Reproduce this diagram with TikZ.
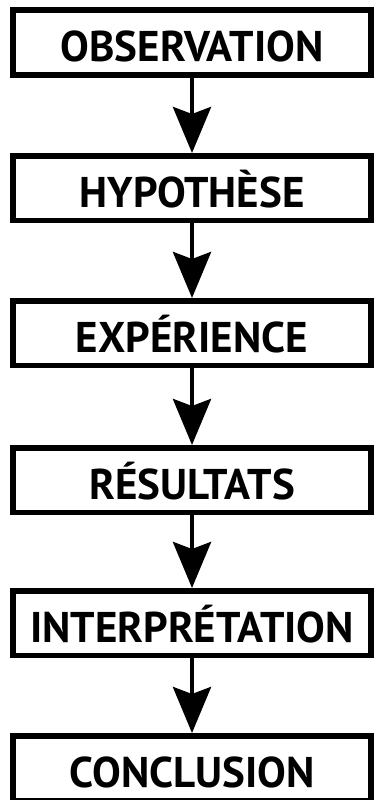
\documentclass[tikz,border=0pt]{standalone}
\usepackage{fontspec}
\setmainfont{PT Sans}
\usepackage{tikz}
\usetikzlibrary{arrows.meta}

\begin{document}
\begin{tikzpicture}[x=1pt,y=1pt,yscale=-1,xscale=1,
    stage/.style={draw, line width=5.5pt, minimum width=358pt, minimum height=64.5pt,
      inner sep=0pt, text height=38pt, text depth=0pt,
      font=\fontsize{43}{43}\selectfont\bfseries},
    flow/.style={line width=4.5pt, -{Stealth[length=46pt, width=38pt, inset=7pt]}}]
        \useasboundingbox (0,0) rectangle (375,800);

        % Text Node
        \node [stage] (obs) at (192,42.5) {OBSERVATION};
        % Text Node
        \node [stage] (hyp) at (192,188) {HYPOTHÈSE};
        % Text Node
        \node [stage] (exp) at (192,333) {EXPÉRIENCE};
        % Text Node
        \node [stage] (res) at (192,480) {RÉSULTATS};
        % Text Node
        \node [stage] (int) at (192,623) {INTERPRÉTATION};
        % Text Node
        \node [stage] (con) at (192,768) {CONCLUSION};

        %Straight Lines
        \draw [flow] (obs) -- (hyp);
        \draw [flow] (hyp) -- (exp);
        \draw [flow] (exp) -- (res);
        \draw [flow] (res) -- (int);
        \draw [flow] (int) -- (con);

    \end{tikzpicture}
\end{document}
